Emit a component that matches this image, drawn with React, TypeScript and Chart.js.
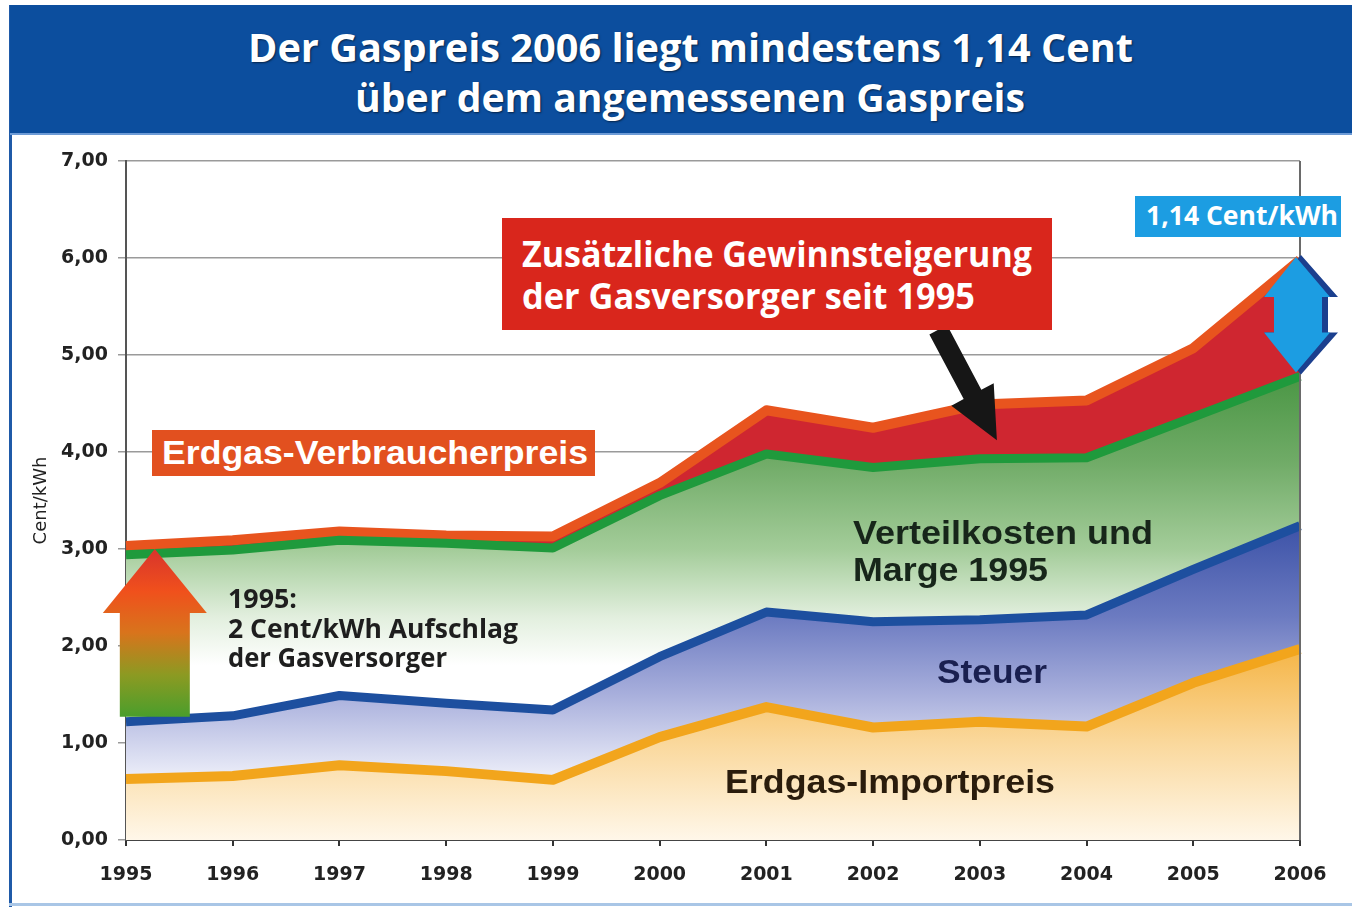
import React, { useEffect, useRef } from 'react';
import { Chart, registerables } from 'chart.js';

Chart.register(...registerables);

// ---------- data ----------
const years = ['1995', '1996', '1997', '1998', '1999', '2000', '2001', '2002', '2003', '2004', '2005', '2006'];
// cumulative levels (Cent/kWh)
const importPrice = [0.63, 0.66, 0.77, 0.71, 0.62, 1.06, 1.37, 1.16, 1.22, 1.17, 1.62, 1.97];
const taxTop = [1.22, 1.28, 1.49, 1.41, 1.34, 1.89, 2.35, 2.25, 2.27, 2.32, 2.79, 3.24];
const distributionTop = [2.94, 2.99, 3.09, 3.06, 3.01, 3.55, 3.98, 3.84, 3.93, 3.94, 4.36, 4.78];
const consumerPrice = [3.03, 3.09, 3.18, 3.14, 3.13, 3.68, 4.43, 4.25, 4.49, 4.53, 5.07, 5.98];
const yTickLabels = ['0,00', '1,00', '2,00', '3,00', '4,00', '5,00', '6,00', '7,00'];

const vGrad = (stops: [number, string][]) => (c: any) => {
  const chart = c.chart;
  const { chartArea, scales } = chart;
  if (!chartArea || !scales || !scales.y) return stops[0][1];
  const y = scales.y;
  const y0 = y.getPixelForValue(stops[0][0]);
  const y1 = y.getPixelForValue(stops[stops.length - 1][0]);
  const g = chart.ctx.createLinearGradient(0, y0, 0, y1);
  const span = stops[stops.length - 1][0] - stops[0][0];
  stops.forEach(([v, col]) => g.addColorStop((v - stops[0][0]) / span, col));
  return g;
};

const overlayPlugin = {
  id: 'overlay',
  afterDatasetsDraw(chart: any) {
    const { ctx, chartArea, scales } = chart;
    const x = scales.x;
    const y = scales.y;
    const px = (i: number) => x.getPixelForValue(i);
    const py = (v: number) => y.getPixelForValue(v);
    ctx.save();

    // right frame line
    ctx.strokeStyle = '#6a6a6a';
    ctx.lineWidth = 2;
    ctx.beginPath();
    ctx.moveTo(chartArea.right, chartArea.top);
    ctx.lineTo(chartArea.right, chartArea.bottom);
    ctx.stroke();

    // big gradient arrow (1995)
    {
      const cx = px(0.27);
      const tip = py(3.0);
      const base = py(2.34);
      const bottom = py(1.27);
      const g = ctx.createLinearGradient(0, bottom, 0, tip);
      g.addColorStop(0, '#4a9e2c');
      g.addColorStop(0.25, '#8c9a22');
      g.addColorStop(0.5, '#d8741c');
      g.addColorStop(0.75, '#f0501c');
      g.addColorStop(1, '#d8342c');
      ctx.fillStyle = g;
      ctx.beginPath();
      ctx.moveTo(cx - 35, bottom);
      ctx.lineTo(cx - 35, base);
      ctx.lineTo(cx - 52, base);
      ctx.lineTo(cx, tip);
      ctx.lineTo(cx + 52, base);
      ctx.lineTo(cx + 35, base);
      ctx.lineTo(cx + 35, bottom);
      ctx.closePath();
      ctx.fill();
    }

    // black pointer arrow
    {
      const tx = px(7.61), ty = py(5.26);
      const hx = px(8.16), hy = py(4.12);
      const dx = hx - tx, dy = hy - ty;
      const len = Math.hypot(dx, dy);
      const ux = dx / len, uy = dy / len;
      const nx = -uy, ny = ux;
      const headLen = 52, sw = 10, hw = 24;
      const bx = hx - ux * headLen, by = hy - uy * headLen;
      ctx.fillStyle = '#161616';
      ctx.beginPath();
      ctx.moveTo(tx + nx * sw, ty + ny * sw);
      ctx.lineTo(bx + nx * sw, by + ny * sw);
      ctx.lineTo(bx + nx * hw, by + ny * hw);
      ctx.lineTo(hx, hy);
      ctx.lineTo(bx - nx * hw, by - ny * hw);
      ctx.lineTo(bx - nx * sw, by - ny * sw);
      ctx.lineTo(tx - nx * sw, ty - ny * sw);
      ctx.closePath();
      ctx.fill();
    }

    // blue double arrow (2006)
    {
      const cx = px(11) + 1;
      const top = py(6.03);
      const bot = py(4.8);
      const hl = 42, hw = 37, sw = 27;
      ctx.fillStyle = '#1b3f8e';
      ctx.beginPath();
      ctx.moveTo(cx, top);
      ctx.lineTo(cx + hw, top + hl);
      ctx.lineTo(cx + sw, top + hl);
      ctx.lineTo(cx + sw, bot - hl);
      ctx.lineTo(cx + hw, bot - hl);
      ctx.lineTo(cx, bot);
      ctx.lineTo(cx - hw, bot - hl);
      ctx.lineTo(cx - sw, bot - hl);
      ctx.lineTo(cx - sw, top + hl);
      ctx.lineTo(cx - hw, top + hl);
      ctx.closePath();
      ctx.fill();
      ctx.save();
      ctx.translate(-5, 0);
      ctx.fillStyle = '#1c9de2';
      ctx.beginPath();
      ctx.moveTo(cx, top + 2);
      ctx.lineTo(cx + hw - 3, top + hl);
      ctx.lineTo(cx + sw - 1, top + hl);
      ctx.lineTo(cx + sw - 1, bot - hl);
      ctx.lineTo(cx + hw - 3, bot - hl);
      ctx.lineTo(cx, bot - 2);
      ctx.lineTo(cx - hw + 5, bot - hl);
      ctx.lineTo(cx - sw + 5, bot - hl);
      ctx.lineTo(cx - sw + 5, top + hl);
      ctx.lineTo(cx - hw + 5, top + hl);
      ctx.closePath();
      ctx.fill();
      ctx.restore();
    }
    ctx.restore();
  },
};

const measureCanvas = typeof document !== 'undefined' ? document.createElement('canvas') : null;
const mctx = measureCanvas ? measureCanvas.getContext('2d') : null;

type LabelProps = {
  text: string;
  x: number;
  cy: number;
  width: number;
  size: number;
  family: string;
  color: string;
  weight?: string;
  shadow?: string;
};

function FitLabel({ text, x, cy, width, size, family, color, weight = 'bold', shadow }: LabelProps) {
  let scale = 1;
  if (mctx) {
    mctx.font = `${weight} ${size}px ${family}`;
    const w = mctx.measureText(text).width;
    if (w > 0) scale = width / w;
  }
  return (
    <div
      style={{
        position: 'absolute',
        left: x,
        top: cy - size * 0.61,
        fontFamily: family,
        fontWeight: weight as any,
        fontSize: size,
        lineHeight: `${size * 1.2}px`,
        whiteSpace: 'nowrap',
        color,
        transform: `scaleX(${scale})`,
        transformOrigin: 'left center',
        textShadow: shadow,
        zIndex: 5,
      }}
    >
      {text}
    </div>
  );
}

const OPEN = "'Open Sans', 'Noto Sans', sans-serif";
const ARIAL = "'Liberation Sans', Arial, sans-serif";

export default function App() {
  const canvasRef = useRef<HTMLCanvasElement | null>(null);

  useEffect(() => {
    document.body.style.margin = '0';
    const canvas = canvasRef.current;
    if (!canvas) return;
    const chart = new Chart(canvas, {
      type: 'line',
      data: {
        labels: years,
        datasets: [
          {
            label: 'Erdgas-Importpreis',
            data: importPrice,
            borderColor: '#f2a51c',
            borderWidth: 10,
            fill: 'origin',
            backgroundColor: vGrad([
              [2.0, '#f5b444'],
              [1.0, '#fad89c'],
              [0, '#fff7e9'],
            ]),
          },
          {
            label: 'Steuer',
            data: taxTop,
            borderColor: '#1d4f9f',
            borderWidth: 9,
            fill: '-1',
            backgroundColor: vGrad([
              [3.3, '#3a50a6'],
              [2.3, '#6c7bc1'],
              [1.5, '#a8afdc'],
              [0.7, '#e8eaf7'],
            ]),
          },
          {
            label: 'Verteilkosten und Marge 1995',
            data: distributionTop,
            borderColor: '#1f9a3c',
            borderWidth: 9,
            fill: '-1',
            backgroundColor: vGrad([
              [4.8, '#4a9644'],
              [3.9, '#70ab67'],
              [3.0, '#a3cc99'],
              [2.3, '#e2efde'],
              [1.8, '#ffffff'],
            ]),
          },
          {
            label: 'Erdgas-Verbraucherpreis',
            data: consumerPrice,
            borderColor: '#e8541e',
            borderWidth: 10,
            fill: '-1',
            backgroundColor: '#cf2630',
          },
        ],
      },
      options: {
        responsive: false,
        animation: false,
        layout: { padding: { left: 0, right: 52, top: 161, bottom: 0 } },
        plugins: {
          legend: { display: false },
          tooltip: { enabled: false },
        },
        elements: {
          point: { radius: 0, hoverRadius: 0 },
          line: { tension: 0, borderJoinStyle: 'round', borderCapStyle: 'butt' },
        },
        scales: {
          x: {
            type: 'category',
            offset: false,
            grid: { display: true, drawOnChartArea: false, drawTicks: true, tickLength: 6, color: '#333', lineWidth: 2 },
            border: { display: true, color: '#444', width: 2 },
            ticks: {
              font: { family: "'DejaVu Sans'", weight: 'bold', size: 19 },
              color: '#222',
              padding: 18,
              maxRotation: 0,
              autoSkip: false,
            },
            afterFit: (s: any) => {
              s.height = 69;
            },
          },
          y: {
            min: 0,
            max: 7,
            ticks: {
              stepSize: 1,
              callback: (v: any) => yTickLabels[Math.round(Number(v))] ?? '',
              font: { family: "'DejaVu Sans'", weight: 'bold', size: 19 },
              color: '#222',
              padding: 10,
            },
            grid: { color: '#9a9a9a', lineWidth: 1.5, tickLength: 8 },
            border: { display: true, color: '#555', width: 2 },
            title: {
              display: true,
              text: 'Cent/kWh',
              font: { family: "'DejaVu Sans'", size: 18 },
              color: '#222',
              padding: { top: 31, bottom: 0 },
            },
            afterFit: (s: any) => {
              s.width = 126;
            },
          },
        },
      } as any,
      plugins: [overlayPlugin],
    });
    return () => chart.destroy();
  }, []);

  return (
    <div
      style={{
        position: 'absolute',
        left: 0,
        top: 0,
        width: 1352,
        height: 909,
        background: '#ffffff',
        overflow: 'hidden',
      }}
    >
      <canvas ref={canvasRef} width={1352} height={909} style={{ position: 'absolute', left: 0, top: 0, width: 1352, height: 909 }} />

      {/* frame */}
      <div style={{ position: 'absolute', left: 9, top: 5, width: 3, height: 902, background: '#1f5aa8' }} />
      <div style={{ position: 'absolute', left: 9, top: 903, width: 1343, height: 3, background: '#a9c6e6' }} />
      <div style={{ position: 'absolute', left: 10, top: 5, width: 1342, height: 128, background: '#0c4e9e', zIndex: 2 }} />
      <div style={{ position: 'absolute', left: 10, top: 133, width: 1342, height: 2, background: '#6d9bd6', zIndex: 2 }} />

      {/* title */}
      <FitLabel text="Der Gaspreis 2006 liegt mindestens 1,14 Cent" x={248} cy={47} width={885} size={40} family={OPEN} color="#ffffff" shadow="1px 1px 2px rgba(0,0,0,0.55)" />
      <FitLabel text="über dem angemessenen Gaspreis" x={355} cy={97} width={670} size={40} family={OPEN} color="#ffffff" shadow="1px 1px 2px rgba(0,0,0,0.55)" />

      {/* red box */}
      <div style={{ position: 'absolute', left: 502, top: 218, width: 550, height: 112, background: '#d9261c', zIndex: 4 }} />
      <FitLabel text="Zusätzliche Gewinnsteigerung" x={522} cy={254} width={510} size={35} family={OPEN} color="#ffffff" />
      <FitLabel text="der Gasversorger seit 1995" x={522} cy={296} width={453} size={35} family={OPEN} color="#ffffff" />

      {/* blue box */}
      <div style={{ position: 'absolute', left: 1135, top: 196, width: 206, height: 41, background: '#1c9de2', zIndex: 4 }} />
      <FitLabel text="1,14 Cent/kWh" x={1146} cy={216} width={192} size={26} family={OPEN} color="#ffffff" />

      {/* Verbraucherpreis box */}
      <div style={{ position: 'absolute', left: 152, top: 430, width: 443, height: 46, background: '#e2501f', zIndex: 4 }} />
      <FitLabel text="Erdgas-Verbraucherpreis" x={162} cy={453} width={426} size={34} family={ARIAL} color="#ffffff" />

      {/* 1995 note */}
      <FitLabel text="1995:" x={228} cy={598} width={69} size={27} family={OPEN} color="#1e1e1e" />
      <FitLabel text="2 Cent/kWh Aufschlag" x={228} cy={628} width={290} size={27} family={OPEN} color="#1e1e1e" />
      <FitLabel text="der Gasversorger" x={228} cy={657} width={219} size={27} family={OPEN} color="#1e1e1e" />

      {/* area labels */}
      <FitLabel text="Verteilkosten und" x={853} cy={533} width={300} size={33} family={ARIAL} color="#17261a" />
      <FitLabel text="Marge 1995" x={853} cy={570} width={195} size={33} family={ARIAL} color="#17261a" />
      <FitLabel text="Steuer" x={937} cy={672} width={110} size={33} family={ARIAL} color="#1a2050" />
      <FitLabel text="Erdgas-Importpreis" x={725} cy={782} width={330} size={33} family={ARIAL} color="#2a1c0c" />
    </div>
  );
}
